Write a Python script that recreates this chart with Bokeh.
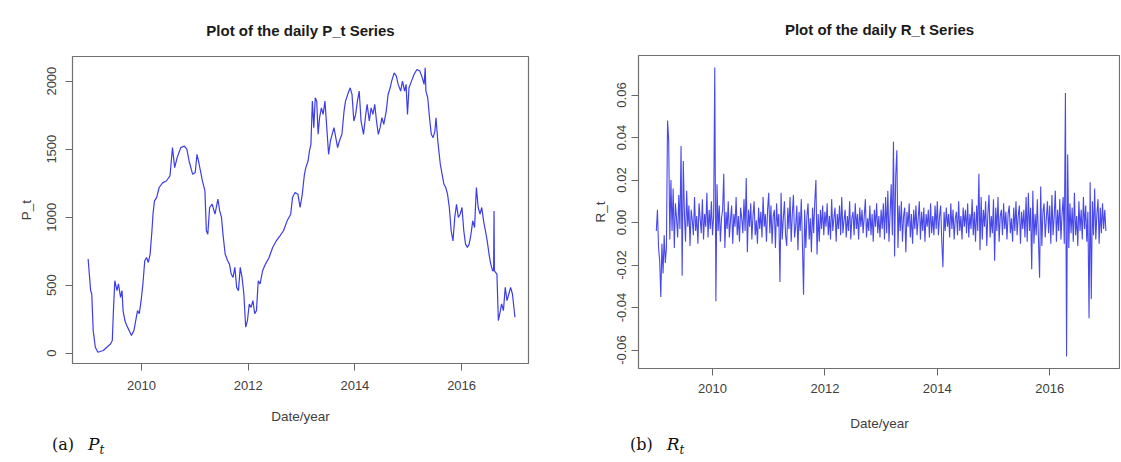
from bokeh.plotting import figure
from bokeh.layouts import row, column
from bokeh.models import Range1d, FixedTicker, NumeralTickFormatter, Div
from bokeh.embed import file_html
from bokeh.resources import INLINE

# ---------------- data ----------------
p_year = [2009.000, 2009.047, 2009.068, 2009.095, 2009.135, 2009.182, 2009.284, 2009.351, 2009.419, 2009.453,
          2009.473, 2009.500, 2009.541, 2009.568, 2009.608, 2009.635, 2009.655, 2009.689, 2009.723, 2009.770,
          2009.811, 2009.858, 2009.892, 2009.926, 2009.959, 2009.993, 2010.027, 2010.061, 2010.095, 2010.128,
          2010.162, 2010.196, 2010.216, 2010.243, 2010.284, 2010.331, 2010.399, 2010.466, 2010.534, 2010.581,
          2010.622, 2010.669, 2010.736, 2010.804, 2010.851, 2010.892, 2010.959, 2011.007, 2011.041, 2011.081,
          2011.142, 2011.189, 2011.216, 2011.243, 2011.277, 2011.324, 2011.378, 2011.432, 2011.466, 2011.500,
          2011.527, 2011.568, 2011.615, 2011.649, 2011.682, 2011.716, 2011.750, 2011.784, 2011.818, 2011.851,
          2011.885, 2011.919, 2011.953, 2011.986, 2012.020, 2012.054, 2012.088, 2012.122, 2012.155, 2012.189,
          2012.223, 2012.270, 2012.324, 2012.392, 2012.459, 2012.527, 2012.595, 2012.662, 2012.730, 2012.797,
          2012.831, 2012.878, 2012.932, 2012.973, 2013.014, 2013.054, 2013.081, 2013.122, 2013.149, 2013.176,
          2013.203, 2013.230, 2013.257, 2013.284, 2013.311, 2013.338, 2013.372, 2013.405, 2013.439, 2013.473,
          2013.507, 2013.541, 2013.574, 2013.608, 2013.642, 2013.676, 2013.709, 2013.757, 2013.797, 2013.824,
          2013.865, 2013.912, 2013.946, 2013.980, 2014.014, 2014.047, 2014.081, 2014.115, 2014.162, 2014.203,
          2014.230, 2014.270, 2014.304, 2014.338, 2014.372, 2014.405, 2014.439, 2014.473, 2014.507, 2014.541,
          2014.588, 2014.622, 2014.662, 2014.689, 2014.736, 2014.777, 2014.811, 2014.858, 2014.892, 2014.932,
          2014.959, 2014.986, 2015.014, 2015.061, 2015.108, 2015.162, 2015.216, 2015.264, 2015.297, 2015.318,
          2015.331, 2015.365, 2015.399, 2015.432, 2015.466, 2015.500, 2015.520, 2015.554, 2015.601, 2015.635,
          2015.669, 2015.703, 2015.736, 2015.770, 2015.804, 2015.838, 2015.872, 2015.905, 2015.939, 2015.973,
          2016.007, 2016.041, 2016.074, 2016.108, 2016.142, 2016.176, 2016.209, 2016.243, 2016.277, 2016.311,
          2016.345, 2016.378, 2016.412, 2016.446, 2016.480, 2016.514, 2016.547, 2016.581, 2016.600, 2016.608,
          2016.615, 2016.662, 2016.689, 2016.716, 2016.750, 2016.784, 2016.818, 2016.851, 2016.885, 2016.919,
          2016.953, 2017.000]
p_value = [692, 460, 435, 166, 44, 7, 20, 44, 68, 93,
           300, 533, 460, 510, 410, 460, 313, 240, 203, 166,
           130, 166, 240, 313, 290, 386, 509, 680, 704, 667,
           728, 900, 1022, 1120, 1144, 1218, 1254, 1266, 1303, 1511,
           1364, 1438, 1511, 1523, 1499, 1413, 1315, 1328, 1462, 1389,
           1266, 1193, 900, 875, 1071, 1095, 1022, 1132, 1046, 998,
           875, 729, 680, 655, 582, 557, 631, 484, 460, 631,
           557, 435, 191, 240, 362, 337, 386, 290, 313, 533,
           509, 606, 655, 704, 777, 826, 863, 900, 973, 1022,
           1144, 1181, 1169, 1071, 1169, 1315, 1364, 1413, 1487, 1535,
           1853, 1658, 1878, 1853, 1609, 1731, 1804, 1755, 1853, 1658,
           1462, 1560, 1609, 1658, 1584, 1511, 1560, 1609, 1780, 1853,
           1902, 1951, 1902, 1707, 1755, 1853, 1927, 1707, 1609, 1755,
           1829, 1707, 1804, 1755, 1829, 1707, 1609, 1658, 1731, 1682,
           1780, 1902, 1951, 2000, 2061, 2037, 1976, 1927, 2000, 1927,
           1976, 1755, 1951, 2000, 2049, 2086, 2074, 2024, 1976, 2098,
           1927, 1878, 1731, 1609, 1584, 1633, 1731, 1560, 1389, 1315,
           1242, 1218, 1169, 1071, 900, 826, 998, 1095, 998, 1022,
           1071, 900, 802, 777, 802, 875, 973, 924, 1218, 1071,
           1022, 1071, 973, 900, 826, 729, 655, 606, 606, 1046,
           606, 582, 240, 290, 362, 313, 484, 386, 435, 484,
           435, 264]

r_value = [
    # 2009
    -0.004, 0.006, -0.012, -0.018, -0.035, -0.010, -0.024, -0.006, -0.019, -0.012,
    0.048, 0.039, -0.008, 0.020, -0.004, 0.016, -0.012, 0.009, 0.002, -0.007,
    0.013, -0.003, 0.036, -0.025, 0.029, 0.004, -0.009, 0.015, -0.002, 0.008,
    -0.011, 0.006, 0.001, -0.006, 0.012, -0.004, 0.003, -0.010, 0.009, 0.002,
    -0.005, 0.011, -0.008, 0.004, -0.002, 0.014, -0.007, 0.006, -0.003, 0.010,
    # 2010
    -0.006, 0.003, 0.073, -0.037, 0.018, -0.004, 0.008, -0.009, 0.002, 0.006,
    0.023, -0.012, 0.005, -0.003, 0.010, -0.007, 0.001, 0.008, -0.010, 0.004,
    -0.002, 0.012, -0.006, 0.003, -0.009, 0.007, 0.002, -0.005, 0.011, -0.004,
    0.021, -0.014, 0.006, -0.002, 0.009, -0.008, 0.003, 0.010, -0.006, 0.001,
    -0.010, 0.007, -0.003, 0.005, -0.007, 0.012, -0.002, 0.004, -0.009, 0.006,
    # 2011
    0.014, -0.005, 0.008, -0.010, 0.003, 0.006, -0.012, 0.009, -0.002, 0.004,
    -0.028, 0.014, -0.008, 0.002, 0.010, -0.006, -0.011, 0.007, -0.003, 0.012,
    -0.009, 0.004, 0.013, -0.007, -0.002, 0.008, -0.013, 0.005, -0.004, 0.011,
    -0.010, -0.034, 0.006, -0.012, 0.003, 0.009, -0.008, 0.002, -0.014, 0.007,
    -0.005, 0.010, 0.020, -0.015, 0.004, -0.009, 0.006, -0.003, 0.008, -0.006,
    # 2012
    0.005, -0.002, 0.009, -0.006, 0.003, -0.008, 0.011, -0.004, 0.002, 0.007,
    -0.009, 0.004, -0.003, 0.008, -0.006, 0.012, -0.005, 0.001, 0.006, -0.007,
    0.003, -0.004, 0.010, -0.008, 0.002, 0.005, -0.006, 0.009, -0.003, 0.004,
    -0.008, 0.007, -0.002, 0.006, -0.005, 0.003, 0.011, -0.007, 0.002, -0.004,
    0.008, -0.006, 0.004, -0.009, 0.006, -0.002, 0.009, -0.005, 0.003, -0.007,
    # 2013
    0.006, -0.003, 0.009, -0.008, 0.012, -0.005, 0.015, -0.009, 0.004, 0.018,
    -0.006, 0.038, -0.016, 0.022, 0.034, -0.012, 0.008, -0.004, 0.010, -0.009,
    0.003, 0.007, -0.014, 0.005, -0.002, 0.009, -0.007, 0.004, -0.010, 0.006,
    -0.003, 0.008, -0.006, 0.002, 0.010, -0.008, 0.005, -0.004, 0.007, -0.009,
    0.004, -0.002, 0.006, -0.007, 0.009, -0.005, 0.003, -0.006, 0.008, -0.003,
    # 2014
    0.010, -0.006, 0.003, 0.008, -0.009, -0.021, 0.005, -0.004, 0.007, -0.002,
    0.004, -0.007, 0.009, -0.003, 0.006, -0.008, 0.002, 0.005, -0.006, 0.010,
    -0.004, 0.003, -0.008, 0.007, -0.002, 0.006, -0.005, 0.009, -0.007, 0.004,
    -0.003, 0.011, -0.006, 0.005, -0.009, 0.008, -0.004, 0.023, -0.013, 0.012,
    -0.008, 0.006, -0.002, 0.010, -0.011, 0.004, 0.013, -0.007, 0.003, -0.005,
    # 2015
    0.011, -0.018, 0.007, -0.004, 0.012, -0.009, 0.003, 0.006, -0.006, 0.009,
    -0.003, 0.005, -0.008, 0.004, 0.008, -0.005, 0.002, -0.009, 0.007, -0.004,
    0.010, -0.006, 0.003, 0.008, -0.010, 0.005, -0.003, 0.006, -0.007, 0.012,
    -0.009, 0.014, -0.004, 0.007, -0.022, 0.015, -0.010, 0.004, -0.006, 0.011,
    -0.008, -0.026, 0.017, -0.011, 0.005, 0.009, -0.007, 0.002, 0.010, -0.005,
    # 2016
    0.008, -0.010, 0.013, -0.006, 0.003, 0.015, -0.009, 0.006, -0.004, 0.011,
    -0.008, 0.004, 0.012, -0.010, 0.061, -0.063, 0.032, -0.012, 0.009, -0.005,
    0.007, -0.009, 0.014, -0.006, 0.003, -0.011, 0.010, -0.004, 0.006, -0.008,
    0.012, -0.003, 0.008, -0.009, 0.005, -0.045, 0.019, -0.036, 0.010, -0.006,
    0.016, -0.008, 0.004, 0.011, -0.010, 0.007, -0.005, 0.009, -0.003, 0.006,
    -0.004,
]
r_start_year = 2009.0
r_end_year = 2017.0
r_year = [r_start_year + (r_end_year - r_start_year) * i / (len(r_value) - 1) for i in range(len(r_value))]

x_ticks = [2010, 2012, 2014, 2016]
p_ticks = [0, 500, 1000, 1500, 2000]
r_ticks = [-0.06, -0.04, -0.02, 0.0, 0.02, 0.04, 0.06]

title_a = "Plot of the daily P_t Series"
title_b = "Plot of the daily R_t Series"
xlabel = "Date/year"

SANS = "Liberation Sans"
SERIF = "DejaVu Serif"
LINE = "#1a1ae6"


def style(p, xt, yt, label_standoff, axis_standoff, title_standoff):
    p.outline_line_color = "#707070"
    p.outline_line_width = 1.2
    p.xgrid.visible = False
    p.ygrid.visible = False
    p.background_fill_color = "white"
    p.border_fill_color = "white"
    p.title.text_font = SANS
    p.title.text_font_size = "15px"
    p.title.text_font_style = "bold"
    p.title.text_color = "#1a1a1a"
    p.title.align = "center"
    p.title.standoff = title_standoff
    for ax in (p.xaxis[0], p.yaxis[0]):
        ax.axis_line_color = None
        ax.major_tick_line_color = "#666666"
        ax.major_tick_out = 7
        ax.major_tick_in = 0
        ax.minor_tick_line_color = None
        ax.major_label_text_font = SANS
        ax.major_label_text_font_size = "13px"
        ax.major_label_text_color = "#404040"
        ax.axis_label_text_font = SANS
        ax.axis_label_text_font_size = "13.5px"
        ax.axis_label_text_font_style = "normal"
        ax.axis_label_text_color = "#404040"
    p.xaxis[0].ticker = FixedTicker(ticks=xt)
    p.yaxis[0].ticker = FixedTicker(ticks=yt)
    p.yaxis[0].major_label_orientation = "vertical"
    p.xaxis[0].major_label_standoff = label_standoff[0]
    p.yaxis[0].major_label_standoff = label_standoff[1]
    p.xaxis[0].axis_label_standoff = axis_standoff[0]
    p.yaxis[0].axis_label_standoff = axis_standoff[1]


def caption(letter, symbol, left, width):
    html = (
        f'<div style="margin-left:{left}px;font-family:\'{SERIF}\';font-size:16px;color:#111;'
        f'line-height:20px;white-space:nowrap;">'
        f'<span>({letter})</span>'
        f'<span style="margin-left:14px;font-style:italic;font-size:17px;">{symbol}</span>'
        f'<sub style="font-style:italic;font-size:12px;">t</sub></div>'
    )
    return Div(text=html, width=width, height=27, margin=0)


# ---------------- left panel ----------------
p1 = figure(width=580, height=434, output_backend="svg", toolbar_location=None,
            title=title_a,
            x_range=Range1d(2008.707, 2017.254), y_range=Range1d(-75.7, 2181),
            min_border_left=72, min_border_right=52, min_border_top=56, min_border_bottom=71,
            x_axis_label=xlabel, y_axis_label="P_t")
p1.line(p_year, p_value, line_color=LINE, line_width=1.2, line_alpha=0.85)
style(p1, x_ticks, p_ticks, (10, 9), (16, 11), 36)

# ---------------- right panel ----------------
p2 = figure(width=540, height=434, output_backend="svg", toolbar_location=None,
            title=title_b,
            x_range=Range1d(2008.683, 2017.26), y_range=Range1d(-0.0687, 0.0786),
            min_border_left=58, min_border_right=0, min_border_top=55, min_border_bottom=66,
            x_axis_label=xlabel, y_axis_label="R_t")
p2.line(r_year, r_value, line_color=LINE, line_width=1.1, line_alpha=0.8)
style(p2, x_ticks, r_ticks, (8, 5), (20, 7), 36)
p2.yaxis[0].formatter = NumeralTickFormatter(format="0.00")

cap_a = caption("a", "P", 52, 580)
cap_b = caption("b", "R", 50, 540)

layout = row(column(p1, cap_a, spacing=0), column(p2, cap_b, spacing=0), spacing=0)
open("out.html", "w").write(file_html(layout, INLINE))
